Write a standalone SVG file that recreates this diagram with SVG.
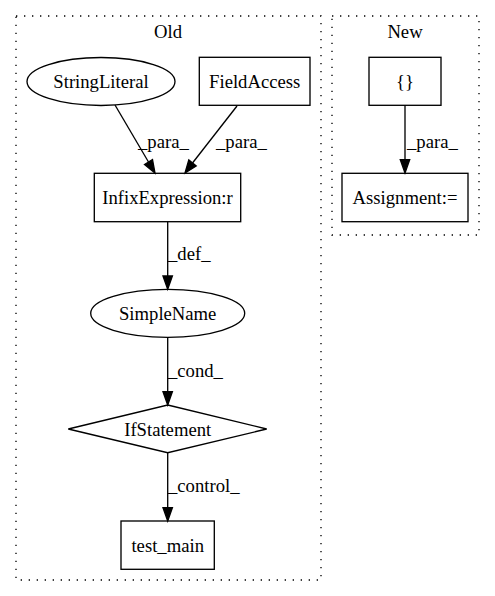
<svg xmlns="http://www.w3.org/2000/svg" width="495" height="596" viewBox="0 0 495 596">
<defs>
<style>
text{font-family:"Liberation Serif","Times New Roman",serif;font-size:18.67px;fill:#000}
.n{text-anchor:middle}
.shape{fill:none;stroke:#000;stroke-width:1.33}
.cl{fill:none;stroke:#000;stroke-width:1.33;stroke-dasharray:1.33,6.67}
.e{fill:none;stroke:#000;stroke-width:1.33}
.ah{fill:#000;stroke:#000;stroke-width:1.33}
</style>
</defs>
<rect width="495" height="596" fill="#fff"/>
<g id="cluster_old">
<rect class="cl" x="16" y="16" width="305" height="564"/>
<text class="n" x="168" y="38">Old</text>
</g>
<g id="cluster_new">
<rect class="cl" x="332" y="16" width="147" height="219"/>
<text class="n" x="405" y="38">New</text>
</g>
<g id="connectors">
<path class="e" d="M115,105 L148.5,162"/>
<polygon class="ah" points="144.5,164.5 155,173 152.5,159.5"/>
<text x="138" y="148">_para_</text>
<path class="e" d="M237,106 L192.5,163"/>
<polygon class="ah" points="188.8,160 185,173 196.2,166"/>
<text x="216" y="148">_para_</text>
<path class="e" d="M167.7,221.7 L167.7,276"/>
<polygon class="ah" points="163,276 167.7,289.3 172.4,276"/>
<text x="168" y="260">_def_</text>
<path class="e" d="M167.7,337.3 L167.7,391.7"/>
<polygon class="ah" points="163,391.7 167.7,405 172.4,391.7"/>
<text x="168" y="377">_cond_</text>
<path class="e" d="M167.7,452.7 L167.7,507.7"/>
<polygon class="ah" points="163,507.7 167.7,521 172.4,507.7"/>
<text x="168" y="492">_control_</text>
<path class="e" d="M405,105 L405,159.7"/>
<polygon class="ah" points="400.3,159.7 405,173 409.7,159.7"/>
<text x="407" y="148">_para_</text>
</g>
<g id="StringLiteral">
<ellipse class="shape" cx="101" cy="81.5" rx="74" ry="24"/>
<text class="n" x="101" y="88">StringLiteral</text>
</g>
<g id="FieldAccess">
<rect class="shape" x="199.3" y="57.3" width="110.7" height="48"/>
<text class="n" x="254.7" y="88">FieldAccess</text>
</g>
<g id="InfixExpression">
<rect class="shape" x="94.3" y="173.3" width="146.4" height="48.4"/>
<text class="n" x="167.5" y="204">InfixExpression:r</text>
</g>
<g id="SimpleName">
<ellipse class="shape" cx="167.7" cy="313.3" rx="77" ry="24"/>
<text class="n" x="167.7" y="320">SimpleName</text>
</g>
<g id="IfStatement">
<polygon class="shape" points="167.7,405 266.7,429 167.7,452.7 68.3,429"/>
<text class="n" x="167.7" y="435.5">IfStatement</text>
</g>
<g id="test_main">
<rect class="shape" x="121" y="521" width="93.3" height="48.3"/>
<text class="n" x="167.7" y="551.5">test_main</text>
</g>
<g id="Braces">
<rect class="shape" x="369" y="57.3" width="72" height="48"/>
<text class="n" x="405" y="88">{}</text>
</g>
<g id="Assignment">
<rect class="shape" x="342" y="173.3" width="126" height="48.4"/>
<text class="n" x="405" y="204">Assignment:=</text>
</g>
</svg>
